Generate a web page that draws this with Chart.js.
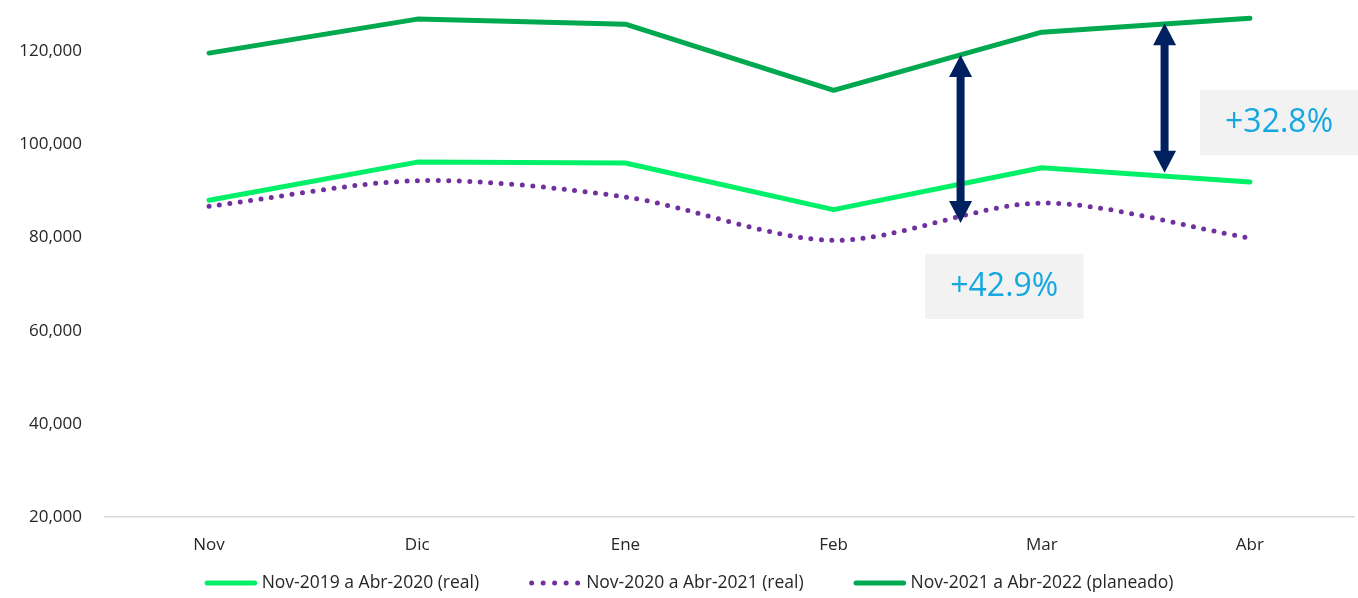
<!DOCTYPE html>
<html>
<head>
<meta charset="utf-8">
<script src="https://cdn.jsdelivr.net/npm/chart.js@4.4.1/dist/chart.umd.min.js"></script>
<style>
    html, body { margin: 0; padding: 0; background: #fff; }
    #wrap { width: 1358px; height: 598px; }
</style>
</head>
<body>
<div id="wrap"><canvas id="chart"></canvas></div>
<script>
/* ─────────────────────────────────────────
   DATOS
───────────────────────────────────────── */
const meses = ['Nov', 'Dic', 'Ene', 'Feb', 'Mar', 'Abr'];
const serie2019 = [88000, 96200, 96000, 86000, 95000, 91900];
const serie2020 = [86700, 92200, 88700, 79400, 87400, 79900];
const serie2021 = [119600, 126900, 125800, 111600, 124100, 127100];
const nombres = ['Nov-2019 a Abr-2020 (real)', 'Nov-2020 a Abr-2021 (real)', 'Nov-2021 a Abr-2022 (planeado)'];
const yTicks = [20000, 40000, 60000, 80000, 100000, 120000];

// anotaciones (en coordenadas de los ejes: índice de categoría / valor)
const flechas = [
    {x: 3.61, desde: 119200, hasta: 83100},
    {x: 4.59, desde: 126000, hasta: 93900},
];
const variaciones = [
    {texto: '+42.9%', x0: 3.44, x1: 4.20, y0: 76500, y1: 62500},
    {texto: '+32.8%', x0: 4.76, x1: 5.52, y0: 111700, y1: 97700},
];

const FONT = 'Open Sans';
const TXT = '#262626';

/* ─────────────────────────────────────────
   PLUGINS
───────────────────────────────────────── */
const anotaciones = {
    id: 'anotaciones',
    afterDatasetsDraw(chart) {
        const {ctx, scales: {x, y}} = chart;
        ctx.save();
        variaciones.forEach(v => {
            const l = x.getPixelForValue(v.x0), r = x.getPixelForValue(v.x1);
            const t = y.getPixelForValue(v.y0), b = y.getPixelForValue(v.y1);
            ctx.fillStyle = '#f2f2f2';
            ctx.fillRect(l, t, r - l, b - t);
            ctx.fillStyle = '#14a7e0';
            ctx.font = '32px "' + FONT + '"';
            ctx.textAlign = 'center';
            ctx.textBaseline = 'middle';
            ctx.fillText(v.texto, (l + r) / 2, (t + b) / 2);
        });
        flechas.forEach(f => {
            const px = x.getPixelForValue(f.x);
            const t = y.getPixelForValue(f.desde), b = y.getPixelForValue(f.hasta);
            const hw = 11.5, hl = 22, sw = 4;
            ctx.fillStyle = '#002060';
            ctx.fillRect(px - sw, t + hl - 1, sw * 2, b - t - 2 * hl + 2);
            ctx.beginPath();
            ctx.moveTo(px, t); ctx.lineTo(px + hw, t + hl); ctx.lineTo(px - hw, t + hl);
            ctx.closePath(); ctx.fill();
            ctx.beginPath();
            ctx.moveTo(px, b); ctx.lineTo(px + hw, b - hl); ctx.lineTo(px - hw, b - hl);
            ctx.closePath(); ctx.fill();
        });
        ctx.restore();
    }
};

const leyenda = {
    id: 'leyenda',
    afterDraw(chart) {
        const {ctx} = chart;
        const y = 583, linea = 52, sep = 5, gap = 50;
        ctx.save();
        ctx.font = '17.5px "' + FONT + '"';
        const items = chart.data.datasets.map(ds => ({ds, w: linea + sep + ctx.measureText(ds.label).width}));
        const total = items.reduce((s, it) => s + it.w, 0) + gap * (items.length - 1);
        let cx = 689 - total / 2;
        items.forEach(it => {
            ctx.strokeStyle = it.ds.borderColor;
            ctx.lineWidth = it.ds.borderWidth;
            ctx.lineCap = 'round';
            ctx.setLineDash(it.ds.borderDash ? [0, 11.5] : []);
            ctx.beginPath();
            ctx.moveTo(cx + 2.5, y);
            ctx.lineTo(cx + linea - 2, y);
            ctx.stroke();
            ctx.setLineDash([]);
            ctx.fillStyle = TXT;
            ctx.textAlign = 'left';
            ctx.textBaseline = 'middle';
            ctx.fillText(it.ds.label, cx + linea + sep, y);
            cx += it.w + gap;
        });
        ctx.restore();
    }
};

/* ─────────────────────────────────────────
   GRÁFICO
───────────────────────────────────────── */
new Chart(document.getElementById('chart'), {
    type: 'line',
    data: {
        labels: meses,
        datasets: [
            {
                label: nombres[0],
                data: serie2019,
                borderColor: '#00f068',
                borderWidth: 5,
                borderCapStyle: 'round',
                borderJoinStyle: 'round',
                pointRadius: 0,
                tension: 0,
            },
            {
                label: nombres[1],
                data: serie2020,
                borderColor: '#7030a0',
                borderWidth: 5,
                borderDash: [0, 10.5],
                borderCapStyle: 'round',
                pointRadius: 0,
                tension: 0.3,
            },
            {
                label: nombres[2],
                data: serie2021,
                borderColor: '#00a84f',
                borderWidth: 5,
                borderCapStyle: 'round',
                borderJoinStyle: 'round',
                pointRadius: 0,
                tension: 0,
            }
        ]
    },
    options: {
        responsive: true,
        maintainAspectRatio: false,
        animation: false,
        layout: {padding: {left: 0, right: 4, top: 0, bottom: 36}},
        plugins: {legend: {display: false}, tooltip: {enabled: false}},
        scales: {
            x: {
                offset: true,
                grid: {display: false, drawTicks: false, offset: true},
                border: {display: true, color: '#d9d9d9', width: 1.5},
                ticks: {color: TXT, font: {family: FONT, size: 17}, padding: 18},
                afterFit(s) { s.height = 45; }
            },
            y: {
                min: 20000,
                max: 131000,
                grid: {display: false, drawTicks: false},
                border: {display: false},
                ticks: {
                    color: TXT,
                    font: {family: FONT, size: 17},
                    padding: 23,
                    callback: v => v.toLocaleString('en-US')
                },
                afterBuildTicks(s) { s.ticks = yTicks.map(v => ({value: v})); },
                afterFit(s) { s.width = 105; s.paddingTop = 0; s.paddingBottom = 0; }
            }
        }
    },
    plugins: [anotaciones, leyenda]
});
</script>
</body>
</html>
